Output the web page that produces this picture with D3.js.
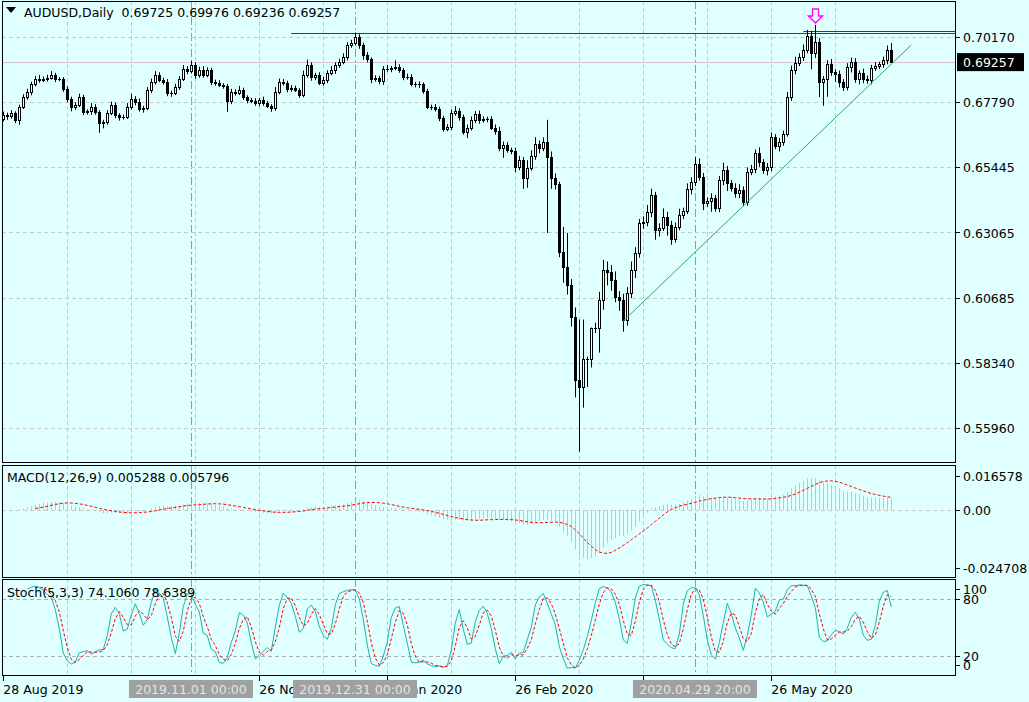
<!DOCTYPE html>
<html><head><meta charset="utf-8">
<script src="https://cdn.jsdelivr.net/npm/d3@7"></script>
<style>body{margin:0;background:#e0ffff;}svg{display:block;}</style>
</head><body>
<script>
// ---- DATA ----
const closes = [
.6734,.6730,.6741,.6716,.6763,.6799,.6817,.6846,.6865,.6861,
.6865,.6868,.6879,.6865,.6865,.6828,.6792,.6763,.6770,.6799,
.6745,.6748,.6763,.6745,.6705,.6708,.6741,.6770,.6734,.6727,
.6727,.6763,.6792,.6781,.6756,.6759,.6825,.6854,.6879,.6861,
.6854,.6814,.6814,.6835,.6865,.6901,.6894,.6915,.6879,.6897,
.6879,.6897,.6854,.6850,.6843,.6839,.6785,.6817,.6814,.6825,
.6799,.6788,.6785,.6777,.6788,.6777,.6767,.6759,.6817,.6854,
.6850,.6828,.6832,.6825,.6806,.6879,.6915,.6872,.6879,.6850,
.6861,.6886,.6897,.6915,.6926,.6944,.6988,.6995,.7017,.6988,
.6952,.6937,.6865,.6868,.6857,.6901,.6901,.6904,.6908,.6897,
.6872,.6872,.6846,.6846,.6846,.6821,.6763,.6763,.6756,.6723,
.6683,.6690,.6741,.6748,.6727,.6672,.6687,.6716,.6738,.6716,
.6719,.6719,.6687,.6676,.6614,.6625,.6607,.6603,.6545,.6571,
.6505,.6541,.6585,.6629,.6614,.6636,.6581,.6505,.6483,.6237,
.6182,.6117,.6001,.5772,.5746,.5845,.5845,.5961,.5961,.6062,
.6171,.6164,.6135,.6073,.6062,.5990,.6088,.6171,.6233,.6342,
.6345,.6382,.6444,.6316,.6324,.6364,.6335,.6284,.6327,.6371,
.6385,.6465,.6491,.6556,.6509,.6414,.6422,.6433,.6396,.6498,
.6534,.6487,.6469,.6451,.6462,.6418,.6527,.6538,.6596,.6563,
.6534,.6545,.6654,.6621,.6636,.6665,.6799,.6897,.6923,.6944,
.6970,.7021,.6959,.6999,.6854,.6865,.6919,.6890,.6883,.6854,
.6835,.6908,.6926,.6865,.6886,.6865,.6861,.6904,.6912,.6919,
.6934,.6970,.69257];
const firstOpen = .6720;
// wick lengths beyond the body, in pips (0.0001)
const wickUp = [
12,8,10,6,8,10,12,8,10,14, 8,12,14,8,6,6,10,8,10,12, 8,6,14,10,6,8,10,12,8,6,
8,14,18,10,12,8,10,12,14,10, 8,10,8,12,10,14,10,16,10,12, 14,10,8,8,10,6,8,12,10,14,
8,6,8,10,8,12,8,6,18,12, 10,8,10,8,6,16,20,10,8,10, 12,10,14,10,12,14,10,12,16,10,
8,10,6,10,8,10,14,8,24,10, 8,12,10,8,10,6,8,8,10,8, 8,10,12,18,10,8,12,12,10,12,
10,8,10,12,14,12,10,8,12,14, 10,28,20,24,12,16,80,20,16,8, 90,123,20,33,218,145,10,0,18,29,
36,30,24,30,20,22,20,30,20,14, 20,24,22,10,16,30,18,14,16,22, 12,20,16,24,20,14,12,16,10,14,
26,14,10,16,20,12,16,14,12,20, 10,14,16,10,14,12,18,16,22,14, 20,22,18,62,14,10,14,18,10,12,
10,14,16,14,10,16,12,12,14,8, 12,16,25];
const wickDn = [
10,14,10,12,18,8,10,12,8,10, 8,10,6,12,8,10,12,16,10,8, 12,10,14,10,36,20,10,8,12,14,
10,8,10,12,10,14,8,12,10,8, 10,12,14,8,10,8,12,10,14,10, 10,8,12,10,8,10,40,12,10,8,
10,12,8,10,12,10,8,14,10,8, 10,12,10,8,10,8,10,14,12,8, 10,12,8,14,10,8,12,10,8,14,
18,12,16,10,12,14,10,12,8,10, 12,10,8,12,14,10,8,12,10,12, 10,8,12,10,14,10,22,10,12,14,
10,12,8,14,12,36,10,12,20,12, 40,36,10,14,20,12,276,40,20,20, 58,36,36,65,236,76,100,29,20,91,
36,50,40,20,40,44,22,20,30,18, 22,16,20,36,24,12,40,22,14,12, 16,12,20,16,14,26,14,40,14,16,
20,30,14,18,20,16,14,12,16,18, 14,20,16,12,20,14,10,14,16,12, 14,12,60,18,55,87,65,14,30,20,
14,12,20,14,20,16,14,16,10,12, 14,16,2];
const priceTicks = [0.70170,0.67790,0.65445,0.63065,0.60685,0.58340,0.55960];
const macdTicks = [0.016578, 0, -0.024708];
const macdTickLabels = ["0.016578","0.00","-0.024708"];
const stochTicks = [100,80,20,0];
const dateLabels = [{i:0,t:"28 Aug 2019"},{i:64,t:"26 Nov 2019"},{i:96,t:"10 Jan 2020"},{i:128,t:"26 Feb 2020"},{i:160,t:"7 Apr 2020"},{i:192,t:"26 May 2020"}];
const vlineMarks = [{i:47,t:"2019.11.01 00:00"},{i:88,t:"2019.12.31 00:00"},{i:173,t:"2020.04.29 20:00"}];
const trendPts = [{i:155,p:0.5985},{i:227,p:0.6988}];
const resLines = [{i0:72,p:0.7032},{i0:200,p:0.7039}];
const arrowBar = 203;
const header = "AUDUSD,Daily  0.69725 0.69976 0.69236 0.69257";
const macdTitle = "MACD(12,26,9) 0.005288 0.005796";
const stochTitle = "Stoch(5,3,3) 74.1060 78.6389";

// ---- derived OHLC ----
const bars = closes.map((c,i)=>{
  const o = i===0 ? firstOpen : closes[i-1];
  return {i, o, c, h: Math.max(o,c)+wickUp[i]*1e-4, l: Math.min(o,c)-wickDn[i]*1e-4};
});
function ema(arr,n){const k=2/(n+1);let e=arr[0];return arr.map(v=>e=v*k+e*(1-k));}
const e12=ema(closes,12), e26=ema(closes,26);
const macd=closes.map((c,i)=>e12[i]-e26[i]);
const sig=macd.map((v,i)=>{if(i<8)return null;let s=0;for(let j=i-8;j<=i;j++)s+=macd[j];return s/9;});
const K=[],D=[];
bars.forEach((b,i)=>{
  if(i<6){K.push(null);return;}
  let num=0,den=0;
  for(let j=i-2;j<=i;j++){const w=bars.slice(j-4,j+1);const hh=d3.max(w,d=>d.h),ll=d3.min(w,d=>d.l);num+=bars[j].c-ll;den+=hh-ll;}
  K.push(den?num/den*100:50);
});
K.forEach((v,i)=>{D.push(i<8?null:(K[i]+K[i-1]+K[i-2])/3);});

// ---- DRAW ----
const W=1029,H=702, R=955;
const svg=d3.select("body").append("svg").attr("width",W).attr("height",H)
  .style("font-family","'DejaVu Sans',sans-serif").style("font-size","12.5px");
svg.append("rect").attr("width",W).attr("height",H).attr("fill","#e0ffff");
const x=d3.scaleLinear().domain([0,222]).range([3.3,891.3]);
const y=d3.scaleLinear().domain([0.55960,0.70170]).range([428,37]);
const ym=d3.scaleLinear().domain([0,0.016578]).range([510,473.5]);
const ys=d3.scaleLinear().domain([0,100]).range([675,580]);
const panels=[[2,1,462],[2,465,577],[2,579,675]];
const gridC="#c8c8c8";
svg.append("defs").selectAll("clipPath").data(panels).join("clipPath").attr("id",(d,i)=>"c"+i)
  .append("rect").attr("x",d=>d[0]).attr("y",d=>d[1]).attr("width",d=>R-d[0]).attr("height",d=>d[2]-d[1]);
const vg=d3.range(16,223,16);
panels.forEach((p,k)=>{
  svg.append("g").selectAll("line").data(vg).join("line")
   .attr("x1",d=>Math.round(x(d))+.5).attr("x2",d=>Math.round(x(d))+.5).attr("y1",p[1]).attr("y2",p[2])
   .attr("stroke",gridC).attr("stroke-dasharray","4,3");
  svg.append("g").selectAll("line").data(vlineMarks).join("line")
   .attr("x1",d=>Math.round(x(d.i))+.5).attr("x2",d=>Math.round(x(d.i))+.5).attr("y1",p[1]).attr("y2",p[2])
   .attr("stroke","#999").attr("stroke-dasharray","8,3,2,3");
});
svg.append("g").selectAll("line").data(priceTicks).join("line")
  .attr("x1",2).attr("x2",R).attr("y1",d=>Math.round(y(d))+.5).attr("y2",d=>Math.round(y(d))+.5)
  .attr("stroke",gridC).attr("stroke-dasharray","4,3");
svg.append("line").attr("x1",2).attr("x2",R).attr("y1",Math.round(ym(0))+.5).attr("y2",Math.round(ym(0))+.5).attr("stroke",gridC).attr("stroke-dasharray","4,3");
svg.append("g").selectAll("line").data([80,20]).join("line")
  .attr("x1",2).attr("x2",R).attr("y1",d=>Math.round(ys(d))+.5).attr("y2",d=>Math.round(ys(d))+.5)
  .attr("stroke","#b0b0b0").attr("stroke-dasharray","4,3");
const last=closes[closes.length-1];
svg.append("line").attr("x1",2).attr("x2",R).attr("y1",Math.round(y(last))+.5).attr("y2",Math.round(y(last))+.5).attr("stroke","#d4c4c8");
svg.append("g").selectAll("line").data(resLines).join("line")
  .attr("x1",d=>x(d.i0)).attr("x2",R).attr("y1",d=>Math.round(y(d.p))+.5).attr("y2",d=>Math.round(y(d.p))+.5)
  .attr("stroke","#d00000");
const gc=svg.append("g").attr("clip-path","url(#c0)");
gc.selectAll("line.w").data(bars).join("line")
  .attr("x1",d=>Math.round(x(d.i))+.5).attr("x2",d=>Math.round(x(d.i))+.5)
  .attr("y1",d=>y(d.h)).attr("y2",d=>y(d.l)).attr("stroke","#000");
gc.selectAll("rect").data(bars).join("rect")
  .attr("x",d=>Math.round(x(d.i))-.5).attr("width",2)
  .attr("y",d=>Math.round(y(Math.max(d.o,d.c)))+.5)
  .attr("height",d=>Math.max(0.01,Math.round(y(Math.min(d.o,d.c)))-Math.round(y(Math.max(d.o,d.c)))))
  .attr("fill",d=>d.c>=d.o?"#fff":"#000").attr("stroke","#000");
gc.append("line").attr("x1",x(trendPts[0].i)).attr("y1",y(trendPts[0].p)).attr("x2",x(trendPts[1].i)).attr("y2",y(trendPts[1].p))
  .attr("stroke","#2fa860").attr("stroke-width",1);
const ax=Math.round(x(arrowBar))+.5, ay=Math.round(y(bars[arrowBar].h))-16;
svg.append("path").attr("d",`M${ax-3},${ay} h6 v7 h4 l-7,7 l-7,-7 h4 z`).attr("fill","none").attr("stroke","#ff00ff").attr("stroke-width",1.3);
const gm=svg.append("g").attr("clip-path","url(#c1)");
gm.selectAll("line").data(macd).join("line")
  .attr("x1",(d,i)=>Math.round(x(i))+.5).attr("x2",(d,i)=>Math.round(x(i))+.5)
  .attr("y1",ym(0)).attr("y2",d=>ym(d)).attr("stroke","#c4c4c4");
gm.append("path").datum(sig.map((v,i)=>[i,v]).filter(d=>d[1]!==null))
  .attr("d",d3.line().x(d=>x(d[0])).y(d=>ym(d[1]))).attr("fill","none").attr("stroke","#ff0000").attr("stroke-dasharray","3,2");
const gs=svg.append("g").attr("clip-path","url(#c2)");
gs.append("path").datum(K.map((v,i)=>[i,v]).filter(d=>d[1]!==null))
  .attr("d",d3.line().x(d=>x(d[0])).y(d=>ys(d[1]))).attr("fill","none").attr("stroke","#20b2aa");
gs.append("path").datum(D.map((v,i)=>[i,v]).filter(d=>d[1]!==null))
  .attr("d",d3.line().x(d=>x(d[0])).y(d=>ys(d[1]))).attr("fill","none").attr("stroke","#ff0000").attr("stroke-dasharray","3,2");
panels.forEach(p=>svg.append("rect").attr("x",p[0]+.5).attr("y",p[1]+.5).attr("width",R-p[0]).attr("height",p[2]-p[1]).attr("fill","none").attr("stroke","#000"));
function rAxis(vals,scale,lab){
  const g=svg.append("g");
  g.selectAll("line").data(vals).join("line").attr("x1",R).attr("x2",R+5).attr("y1",d=>Math.round(scale(d))+.5).attr("y2",d=>Math.round(scale(d))+.5).attr("stroke","#000");
  g.selectAll("text").data(vals).join("text").attr("x",R+8).attr("y",d=>scale(d)+5).text((d,i)=>lab(d,i));
}
rAxis(priceTicks,y,d=>d.toFixed(5));
rAxis(macdTicks,d=>[475.5,510,567.5][macdTicks.indexOf(d)],(d,i)=>macdTickLabels[i]);
rAxis(stochTicks,d=>({100:589,80:599,20:656,0:665})[d],d=>String(d));
svg.append("rect").attr("x",R+2).attr("y",y(last)-9).attr("width",67).attr("height",18).attr("fill","#000");
svg.append("text").attr("x",R+8).attr("y",y(last)+5).attr("fill","#fff").text(last.toFixed(5));
const ga=svg.append("g");
ga.selectAll("line").data(dateLabels).join("line").attr("x1",d=>Math.round(x(d.i))+.5).attr("x2",d=>Math.round(x(d.i))+.5).attr("y1",675).attr("y2",681).attr("stroke","#000");
ga.selectAll("text").data(dateLabels).join("text").attr("x",d=>x(d.i)).attr("y",694).text(d=>d.t);
vlineMarks.forEach(d=>{
  const cx=Math.round(x(d.i));
  svg.append("rect").attr("x",cx-62).attr("y",680).attr("width",124).attr("height",18).attr("fill","#a0a0a0");
  svg.append("text").attr("x",cx).attr("y",694).attr("text-anchor","middle").attr("fill","#e4e4e4").text(d.t);
});
svg.append("path").attr("d","M6,7 h10 l-5,6 z").attr("fill","#000");
svg.append("text").attr("x",24).attr("y",17).attr("xml:space","preserve").style("white-space","pre").text(header);
svg.append("text").attr("x",7).attr("y",482).text(macdTitle);
svg.append("text").attr("x",7).attr("y",597).text(stochTitle);
</script>
</body></html>
